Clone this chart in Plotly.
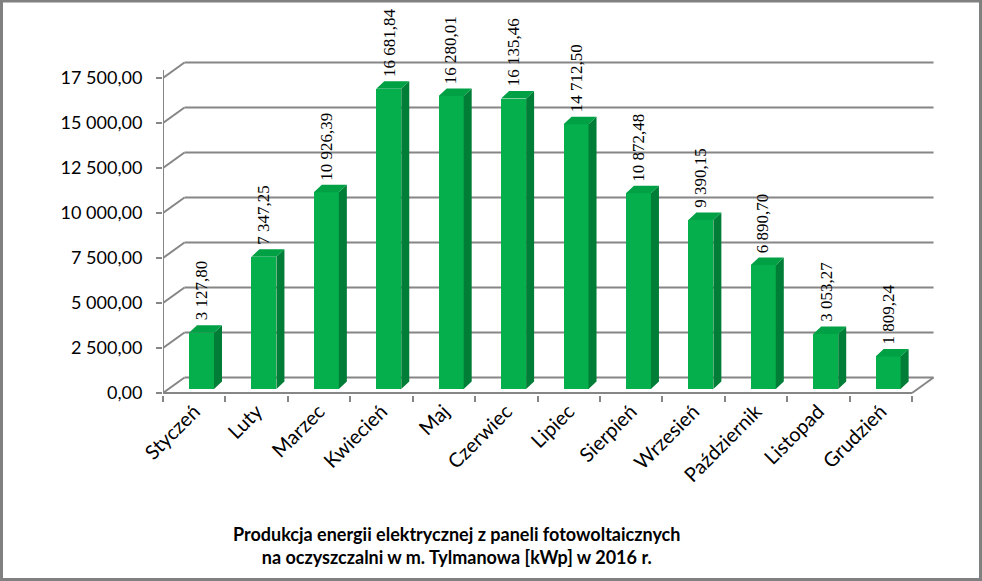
import plotly.graph_objects as go

months = ["Styczeń", "Luty", "Marzec", "Kwiecień", "Maj", "Czerwiec", "Lipiec",
          "Sierpień", "Wrzesień", "Październik", "Listopad", "Grudzień"]
values = [3127.80, 7347.25, 10926.39, 16681.84, 16280.01, 16135.46, 14712.50,
          10872.48, 9390.15, 6890.70, 3053.27, 1809.24]
y_ticks = [0, 2500, 5000, 7500, 10000, 12500, 15000, 17500]
title_lines = ["Produkcja energii elektrycznej z paneli fotowoltaicznych",
               "na oczyszczalni w m. Tylmanowa [kWp] w 2016 r."]

# ---- layout geometry (pixels) ----
W, H = 982, 581
ML, MR, MT, MB = 163, 42, 58, 186
plot_w = W - ML - MR
plot_h = H - MT - MB
n = len(months)
cat_px = 62.42                 # pixels per category
unit_px = 315.0 / 17500.0      # pixels per value unit


def dx(px):
    return px / cat_px


def dy(px):
    return px / unit_px


x0 = -0.5
x1 = x0 + plot_w / cat_px
y0 = -dy(2)
y1 = y0 + plot_h / unit_px

GRID = "#868686"
WX, WY = dx(21.5), dy(15.5)       # wall depth
BOX, BOY = dx(7.3), dy(4)         # bar front-face offset in depth
BW = dx(25)                       # bar width
SX, SY = dx(8), dy(7.5)           # bar depth

FRONT = "#05B04C"
TOP = "#00A045"
SIDE = "#007D36"

fig = go.Figure()

# front faces
xs = [i + BOX for i in range(n)]
fig.add_trace(go.Bar(x=xs, y=values, base=[BOY] * n, width=BW,
                     marker=dict(color=FRONT, line=dict(width=0)),
                     hoverinfo="skip", showlegend=False))

# side faces & top faces
sx, sy, tx, ty = [], [], [], []
for xc, v in zip(xs, values):
    l, r = xc - BW / 2, xc + BW / 2
    b, t = BOY, BOY + v
    sx += [r, r + SX, r + SX, r, r, None]
    sy += [b, b + SY, t + SY, t, b, None]
    tx += [l, l + SX, r + SX, r, l, None]
    ty += [t, t + SY, t + SY, t, t, None]
fig.add_trace(go.Scatter(x=sx, y=sy, fill="toself", fillcolor=SIDE, mode="lines",
                         line=dict(width=0, color=SIDE), hoverinfo="skip", showlegend=False))
fig.add_trace(go.Scatter(x=tx, y=ty, fill="toself", fillcolor=TOP, mode="lines",
                         line=dict(width=0, color=TOP), hoverinfo="skip", showlegend=False))

# invisible trace for boundary-tick axis
fig.add_trace(go.Scatter(x=[x0], y=[0], xaxis="x2", mode="markers",
                         marker=dict(opacity=0), hoverinfo="skip", showlegend=False))

shapes = []
# back wall gridlines + left diagonals
for t in y_ticks:
    shapes.append(dict(type="line", xref="x", yref="y", x0=x0, y0=t, x1=x0 + WX, y1=t + WY,
                       line=dict(color=GRID, width=2), layer="below"))
    shapes.append(dict(type="line", xref="x", yref="y", x0=x0 + WX, y0=t + WY, x1=x0 + n + WX, y1=t + WY,
                       line=dict(color=GRID, width=2), layer="below"))
# floor front edge and right diagonal
shapes.append(dict(type="line", xref="x", yref="y", x0=x0, y0=0, x1=x0 + n, y1=0,
                   line=dict(color=GRID, width=2), layer="below"))
shapes.append(dict(type="line", xref="x", yref="y", x0=x0 + n, y0=0, x1=x0 + n + WX, y1=WY,
                   line=dict(color=GRID, width=2), layer="below"))
# y axis line
shapes.append(dict(type="line", xref="x", yref="y", x0=x0, y0=0, x1=x0, y1=y_ticks[-1] + dy(8),
                   line=dict(color=GRID, width=2), layer="below"))


def px_to_paper_x(p):
    return (p - ML) / plot_w


def px_to_paper_y(p):
    return (H - MB - p) / plot_h


# outer border
shapes.append(dict(type="rect", xref="paper", yref="paper",
                   x0=px_to_paper_x(1.5), x1=px_to_paper_x(980.5),
                   y0=px_to_paper_y(579.5), y1=px_to_paper_y(1),
                   line=dict(color="#808080", width=3), fillcolor="rgba(0,0,0,0)", layer="above"))


def fmt(v):
    return f"{v:,.2f}".replace(",", " ").replace(".", ",")


annotations = []
for xc, v in zip(xs, values):
    annotations.append(dict(x=xc, y=v + BOY, xref="x", yref="y", text=fmt(v),
                            textangle=-90, showarrow=False, xanchor="center", yanchor="bottom",
                            yshift=10, font=dict(family="Liberation Serif", size=17, color="black")))

annotations.append(dict(x=px_to_paper_x(456), y=px_to_paper_y(545), xref="paper", yref="paper",
                        text="<b>" + "<br>".join(title_lines) + "</b>", showarrow=False,
                        xanchor="center", yanchor="middle", align="center",
                        font=dict(family="Lato", size=18, color="black")))

fig.update_layout(
    width=W, height=H,
    margin=dict(l=ML, r=MR, t=MT, b=MB, pad=0),
    paper_bgcolor="white", plot_bgcolor="white",
    separators=", ",
    bargap=0,
    font=dict(family="Lato", size=18, color="black"),
    xaxis=dict(range=[x0, x1], tickvals=list(range(n)), ticktext=months, tickangle=-45,
               ticks="", showgrid=False, zeroline=False, showline=False,
               tickfont=dict(family="Lato", size=20, color="black")),
    xaxis2=dict(range=[x0, x1], overlaying="x", anchor="y", side="bottom",
                tickvals=[x0 + k for k in range(n + 1)], ticks="outside", ticklen=6,
                tickwidth=2, tickcolor=GRID, showticklabels=False, showgrid=False,
                zeroline=False, showline=False),
    yaxis=dict(range=[y0, y1], tickvals=y_ticks, tickformat=",.2f", ticks="outside",
               ticklen=6, tickwidth=2, tickcolor=GRID, showgrid=False, zeroline=False,
               showline=False, ticklabelstandoff=10,
               tickfont=dict(family="Lato", size=18, color="black")),
    shapes=shapes,
    annotations=annotations,
    showlegend=False,
)

fig.write_html("out.html")
